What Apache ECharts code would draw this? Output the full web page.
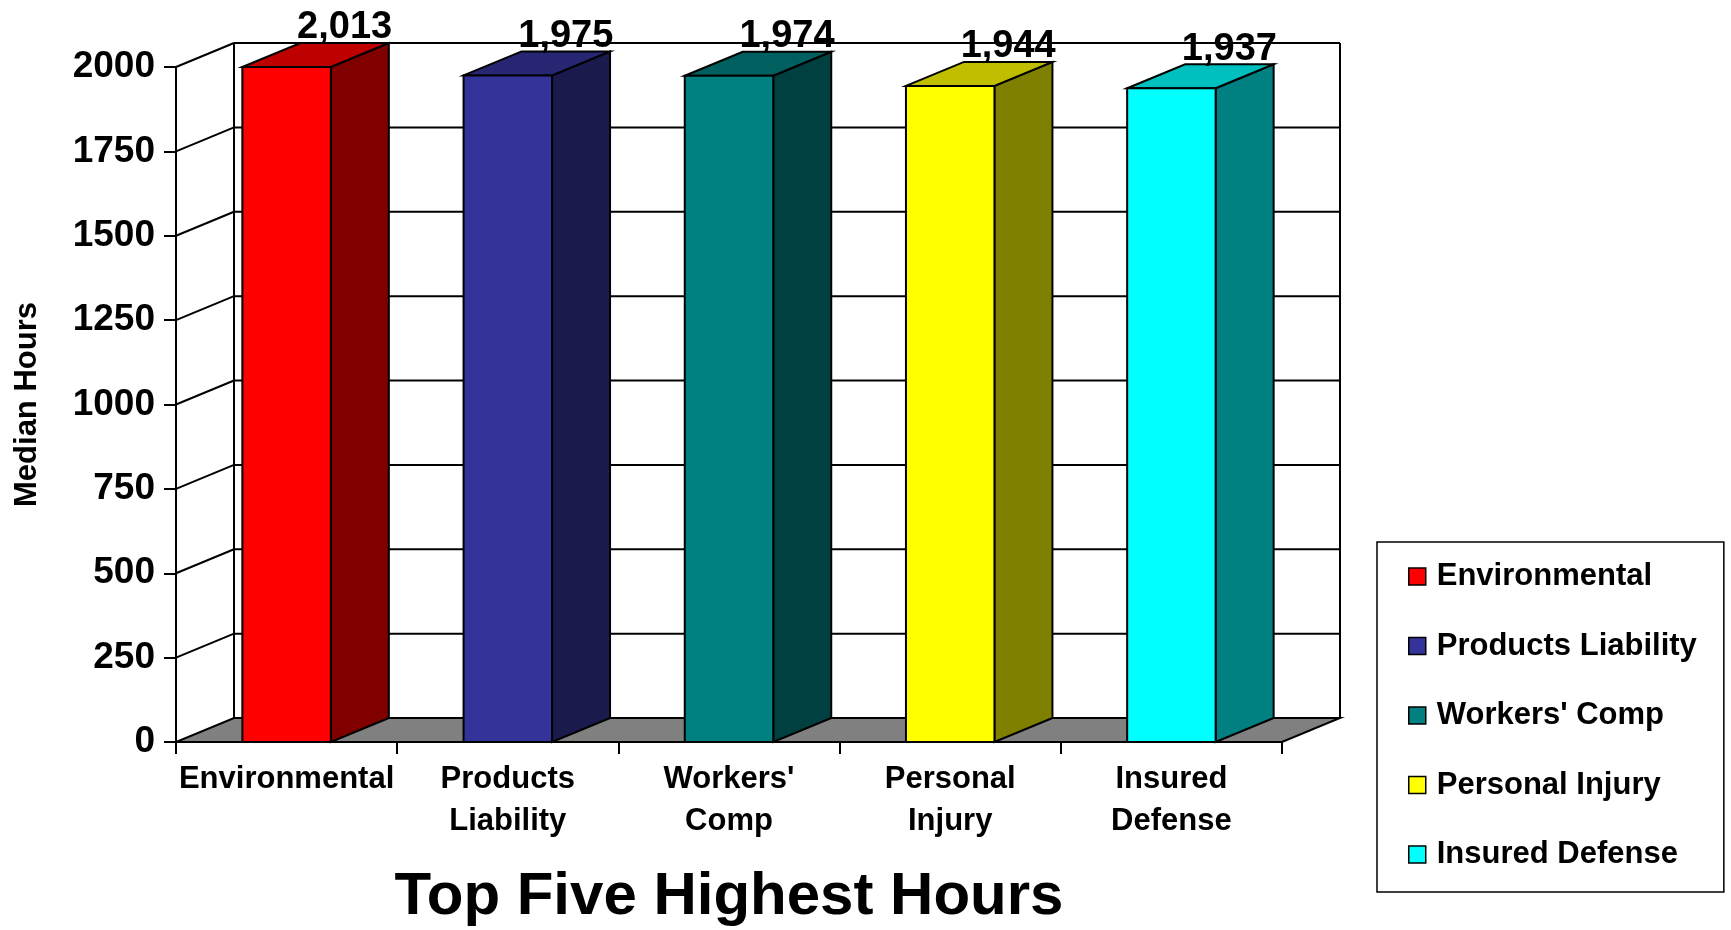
<!DOCTYPE html>
<html>
<head>
<meta charset="utf-8">
<title>Top Five Highest Hours</title>
<script src="https://cdn.jsdelivr.net/npm/echarts@6/dist/echarts.min.js"></script>
<style>
  html, body { margin: 0; padding: 0; background: #fff; }
  #chart { width: 1731px; height: 930px; }
</style>
</head>
<body>
<div id="chart"></div>
<script>
  // data
  const categories = ['Environmental', 'Products Liability', "Workers' Comp", 'Personal Injury', 'Insured Defense'];
  const categoryLabels = ['Environmental', 'Products\nLiability', "Workers'\nComp", 'Personal\nInjury', 'Insured\nDefense'];
  const medianHours = [2013, 1975, 1974, 1944, 1937];
  const yTicks = [0, 250, 500, 750, 1000, 1250, 1500, 1750, 2000];

  // excel-ish 3d look
  const frontColors = ['#ff0000', '#333399', '#008080', '#ffff00', '#00ffff'];
  const topColors = ['#bf0000', '#262673', '#006060', '#bfbf00', '#00bfbf'];
  const sideColors = ['#800000', '#1a1a4d', '#004040', '#808000', '#008080'];
  const DX = 58;
  const DY = -24;
  const BAR_FRAC = 0.4;
  const Y_MAX = 2000;
  const FONT = "'Liberation Sans', Arial, sans-serif";
  const LINE = { stroke: '#000', lineWidth: 2 };

  const fmt = function (v) {
    return String(v).replace(/\B(?=(\d{3})+(?!\d))/g, ',');
  };

  function wallItem(params, api) {
    const cs = params.coordSys;
    const x0 = cs.x;
    const x1 = cs.x + cs.width;
    const v = api.value(1);
    const y = api.coord([0, v])[1];
    if (v === 0) {
      const yTop = api.coord([0, Y_MAX])[1];
      return {
        type: 'group',
        children: [
          {
            type: 'polygon',
            shape: { points: [[x0, y], [x1, y], [x1 + DX, y + DY], [x0 + DX, y + DY]] },
            style: { fill: '#808080', stroke: '#000', lineWidth: 2 }
          },
          { type: 'line', shape: { x1: x0 + DX, y1: y + DY, x2: x0 + DX, y2: yTop + DY }, style: LINE },
          { type: 'line', shape: { x1: x1 + DX, y1: y + DY, x2: x1 + DX, y2: yTop + DY }, style: LINE }
        ]
      };
    }
    return {
      type: 'group',
      children: [
        { type: 'line', shape: { x1: x0, y1: y, x2: x0 + DX, y2: y + DY }, style: LINE },
        { type: 'line', shape: { x1: x0 + DX, y1: y + DY, x2: x1 + DX, y2: y + DY }, style: LINE }
      ]
    };
  }

  function makeBar(i) {
    return function (params, api) {
      const idx = api.value(0);
      const val = api.value(1);
      const top = api.coord([idx, Math.min(val, Y_MAX)]);
      const base = api.coord([idx, 0]);
      const w = api.size([1, 0])[0] * BAR_FRAC;
      const l = top[0] - w / 2;
      const r = l + w;
      const t = top[1];
      const b = base[1];
      return {
        type: 'group',
        children: [
          {
            type: 'polygon',
            shape: { points: [[r, t], [r + DX, t + DY], [r + DX, b + DY], [r, b]] },
            style: { fill: sideColors[i], stroke: '#000', lineWidth: 2 }
          },
          {
            type: 'polygon',
            shape: { points: [[l, t], [l + DX, t + DY], [r + DX, t + DY], [r, t]] },
            style: { fill: topColors[i], stroke: '#000', lineWidth: 2 }
          },
          {
            type: 'rect',
            shape: { x: l, y: t, width: w, height: b - t },
            style: { fill: frontColors[i], stroke: '#000', lineWidth: 2 }
          },
          {
            type: 'text',
            x: top[0] + DX,
            y: t + DY + 4,
            style: {
              text: fmt(val),
              fill: '#000',
              font: 'bold 38px ' + FONT,
              align: 'center',
              verticalAlign: 'bottom'
            }
          }
        ]
      };
    };
  }

  const chart = echarts.init(document.getElementById('chart'));

  const barSeries = categories.map(function (name, i) {
    return {
      type: 'custom',
      name: name,
      clip: false,
      z: 3,
      itemStyle: { color: frontColors[i] },
      encode: { x: 0, y: 1 },
      data: [[i, medianHours[i]]],
      renderItem: makeBar(i)
    };
  });

  const option = {
    animation: false,
    backgroundColor: '#fff',
    title: {
      text: 'Top Five Highest Hours',
      left: 729,
      textAlign: 'center',
      top: 867,
      padding: 0,
      textStyle: { fontFamily: FONT, fontSize: 60, fontWeight: 'bold', color: '#000', lineHeight: 60 }
    },
    legend: {
      data: categories,
      orient: 'vertical',
      left: 1377,
      top: 542,
      padding: [19, 27, 22, 31],
      itemGap: 38.5,
      itemWidth: 17,
      itemHeight: 17,
      icon: 'rect',
      borderColor: '#000',
      borderWidth: 1.5,
      itemStyle: { borderColor: '#000', borderWidth: 1.5 },
      textStyle: { fontFamily: FONT, fontSize: 31, fontWeight: 'bold', color: '#000', lineHeight: 30, padding: [0, 0, 0, 6] }
    },
    grid: { left: 176, right: 449, top: 67, bottom: 188, containLabel: false },
    xAxis: {
      type: 'category',
      data: categories,
      axisLine: { lineStyle: { color: '#000', width: 2 } },
      axisTick: { show: true, length: 12, lineStyle: { color: '#000', width: 2 } },
      axisLabel: {
        margin: 16,
        interval: 0,
        fontFamily: FONT,
        fontSize: 31,
        fontWeight: 'bold',
        color: '#000',
        lineHeight: 42,
        formatter: function (v, i) { return categoryLabels[i]; }
      },
      splitLine: { show: false }
    },
    yAxis: {
      type: 'value',
      min: 0,
      max: Y_MAX,
      interval: 250,
      name: 'Median Hours',
      nameLocation: 'middle',
      nameRotate: 90,
      nameGap: 133,
      nameTextStyle: { fontFamily: FONT, fontSize: 31, fontWeight: 'bold', color: '#000' },
      axisLine: { show: true, lineStyle: { color: '#000', width: 2 } },
      axisTick: { show: true, length: 12, lineStyle: { color: '#000', width: 2 } },
      axisLabel: {
        margin: 21,
        fontFamily: FONT,
        fontSize: 37,
        fontWeight: 'bold',
        color: '#000',
        formatter: function (v) { return String(v); }
      },
      splitLine: { show: false }
    },
    series: [
      {
        type: 'custom',
        name: 'wall',
        clip: false,
        z: 1,
        silent: true,
        encode: { x: 0, y: 1 },
        data: yTicks.map(function (v) { return [0, v]; }),
        renderItem: wallItem
      }
    ].concat(barSeries)
  };

  chart.setOption(option);
</script>
</body>
</html>
